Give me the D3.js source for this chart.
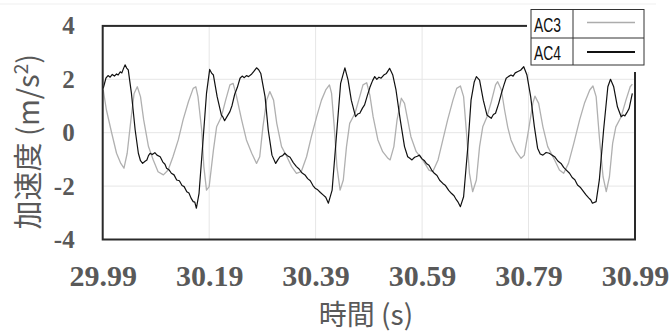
<!DOCTYPE html>
<html>
<head>
<meta charset="utf-8">
<script src="https://cdn.jsdelivr.net/npm/d3@7"></script>
<style>
  body { margin: 0; background: #fff; }
  svg { display: block; }
</style>
</head>
<body>
<div id="chart"></div>
<script>
// axis ticks
const xTicks = [29.99, 30.19, 30.39, 30.59, 30.79, 30.99];
const yTicks = [-4, -2, 0, 2, 4];
const seriesNames = ["AC3", "AC4"];

// AC3 (grey) [time s, acceleration m/s2]
const ac3 = [
  [29.991, 1.6], [29.997, 0.85], [30.007, -0.02], [30.016, -0.77], [30.024, -1.15],
  [30.030, -1.33], [30.036, -0.77], [30.043, 0.48], [30.049, 1.47], [30.055, 1.72],
  [30.061, 1.35], [30.067, 0.48], [30.076, -0.52], [30.085, -1.02], [30.094, -1.46],
  [30.104, -1.58], [30.113, -1.4], [30.122, -0.9], [30.132, -0.27], [30.141, 0.48],
  [30.151, 1.16], [30.160, 1.66], [30.165, 1.72], [30.169, 1.35], [30.176, 0.1],
  [30.180, -1.27], [30.185, -2.15], [30.190, -2.02], [30.198, -0.65], [30.204, 0.22],
  [30.213, 0.6], [30.221, 1.22], [30.229, 1.79], [30.235, 1.85], [30.241, 1.4],
  [30.251, 0.48], [30.260, -0.27], [30.270, -0.77], [30.279, -1.15], [30.285, -0.9],
  [30.291, 0.22], [30.298, 1.22], [30.304, 1.54], [30.311, 1.22], [30.317, 0.35],
  [30.326, -0.52], [30.336, -0.9], [30.345, -1.27], [30.354, -1.52], [30.363, -1.46],
  [30.373, -0.9], [30.382, -0.15], [30.392, 0.6], [30.401, 1.22], [30.409, 1.6],
  [30.416, 1.79], [30.420, 1.47], [30.425, 0.22], [30.430, -1.27], [30.436, -2.15],
  [30.442, -1.77], [30.448, -0.52], [30.454, 0.35], [30.464, 0.73], [30.471, 1.22],
  [30.479, 1.79], [30.486, 1.87], [30.492, 1.4], [30.498, 0.6], [30.507, -0.27],
  [30.516, -0.71], [30.526, -0.96], [30.530, -1.02], [30.537, -0.52], [30.543, 0.48],
  [30.551, 1.29], [30.557, 1.1], [30.563, 0.48], [30.569, -0.15], [30.579, -0.71],
  [30.591, -1.02], [30.603, -1.4], [30.610, -1.46], [30.620, -1.02], [30.629, -0.27],
  [30.638, 0.48], [30.648, 1.22], [30.655, 1.66], [30.662, 1.75], [30.668, 1.35],
  [30.674, -0.15], [30.679, -1.52], [30.685, -2.21], [30.692, -1.77], [30.698, -0.52],
  [30.704, 0.22], [30.712, 0.6], [30.720, 1.16], [30.728, 1.79], [30.732, 1.91],
  [30.739, 1.6], [30.745, 0.85], [30.751, 0.2], [30.757, -0.27], [30.767, -0.71],
  [30.776, -0.96], [30.782, -0.84], [30.790, 0.1], [30.798, 1.1], [30.802, 1.37],
  [30.809, 1.1], [30.817, 0.22], [30.826, -0.52], [30.839, -1.02], [30.848, -1.4],
  [30.856, -1.52], [30.865, -1.15], [30.875, -0.4], [30.886, 0.48], [30.895, 1.1],
  [30.905, 1.6], [30.911, 1.75], [30.917, 1.35], [30.923, -0.15], [30.930, -1.65],
  [30.936, -2.21], [30.942, -1.65], [30.948, -0.4], [30.954, 0.22], [30.964, 0.6],
  [30.973, 1.22], [30.981, 1.72], [30.985, 1.82]
];

// AC4 (black) [time s, acceleration m/s2]
const ac4 = [
  [29.991, 1.66], [29.996, 2.04], [30.000, 2.14], [30.004, 2.08], [30.008, 2.18],
  [30.012, 2.12], [30.016, 2.2], [30.019, 2.16], [30.023, 2.28], [30.026, 2.24],
  [30.029, 2.4], [30.032, 2.54], [30.035, 2.42], [30.038, 2.35], [30.044, 1.47],
  [30.051, 0.1], [30.057, -0.77], [30.061, -1.05], [30.065, -1.15], [30.069, -1.08],
  [30.073, -1.02], [30.076, -0.86], [30.079, -0.77], [30.083, -0.82], [30.088, -0.75],
  [30.092, -0.84], [30.098, -0.9], [30.103, -1.1], [30.107, -1.18], [30.110, -1.33],
  [30.115, -1.4], [30.119, -1.52], [30.124, -1.58], [30.129, -1.77], [30.134, -1.8],
  [30.139, -1.98], [30.143, -2.02], [30.148, -2.21], [30.152, -2.26], [30.156, -2.45],
  [30.160, -2.58], [30.163, -2.6], [30.166, -2.83], [30.171, -2.27], [30.179, -0.15],
  [30.185, 1.47], [30.191, 2.37], [30.195, 2.22], [30.198, 2.16], [30.205, 1.35],
  [30.213, 0.66], [30.216, 0.58], [30.219, 0.45], [30.224, 0.62], [30.229, 0.79],
  [30.233, 1.02], [30.238, 1.44], [30.243, 1.7], [30.248, 2.04], [30.252, 2.12],
  [30.256, 2.06], [30.260, 2.14], [30.264, 2.1], [30.270, 2.2], [30.274, 2.3],
  [30.279, 2.43], [30.283, 2.36], [30.287, 2.22], [30.295, 1.35], [30.301, 0.1],
  [30.308, -0.84], [30.315, -1.15], [30.319, -1.02], [30.323, -0.9], [30.328, -0.86],
  [30.332, -0.77], [30.337, -0.86], [30.342, -0.92], [30.348, -1.12], [30.354, -1.27],
  [30.359, -1.36], [30.364, -1.5], [30.370, -1.58], [30.375, -1.72], [30.380, -1.8],
  [30.385, -1.98], [30.389, -2.08], [30.394, -2.14], [30.399, -2.24], [30.404, -2.33],
  [30.409, -2.42], [30.414, -2.64], [30.421, -2.15], [30.430, 0.1], [30.437, 1.85],
  [30.445, 2.43], [30.451, 1.97], [30.457, 1.22], [30.465, 0.6], [30.469, 0.7],
  [30.473, 0.73], [30.478, 0.92], [30.482, 1.04], [30.487, 1.38], [30.492, 1.7],
  [30.497, 1.95], [30.501, 2.1], [30.505, 2.0], [30.509, 2.08], [30.513, 2.04],
  [30.518, 2.16], [30.523, 2.22], [30.529, 2.41], [30.535, 2.16], [30.541, 1.6],
  [30.549, 0.48], [30.557, -0.52], [30.563, -0.9], [30.567, -0.96], [30.571, -1.02],
  [30.576, -0.92], [30.581, -0.88], [30.585, -0.84], [30.590, -0.98], [30.594, -1.04],
  [30.598, -1.15], [30.603, -1.22], [30.608, -1.4], [30.613, -1.52], [30.618, -1.6],
  [30.623, -1.78], [30.629, -1.9], [30.634, -1.98], [30.640, -2.16], [30.645, -2.27],
  [30.650, -2.36], [30.654, -2.5], [30.657, -2.58], [30.662, -2.77], [30.668, -2.4],
  [30.676, -0.52], [30.682, 1.22], [30.688, 1.9], [30.692, 2.1], [30.698, 1.97],
  [30.705, 1.22], [30.712, 0.66], [30.716, 0.6], [30.720, 0.54], [30.724, 0.68],
  [30.728, 0.73], [30.734, 1.1], [30.739, 1.47], [30.744, 1.8], [30.748, 2.04],
  [30.752, 2.1], [30.757, 2.16], [30.761, 2.12], [30.765, 2.24], [30.770, 2.29],
  [30.775, 2.34], [30.781, 2.47], [30.787, 2.16], [30.794, 1.35], [30.801, 0.22],
  [30.807, -0.58], [30.812, -0.8], [30.817, -0.84], [30.823, -0.74], [30.829, -0.77],
  [30.834, -0.84], [30.839, -0.9], [30.845, -1.06], [30.851, -1.15], [30.856, -1.3],
  [30.861, -1.4], [30.867, -1.52], [30.872, -1.68], [30.877, -1.76], [30.882, -1.96],
  [30.887, -2.04], [30.893, -2.2], [30.898, -2.33], [30.903, -2.44], [30.907, -2.52],
  [30.910, -2.64], [30.917, -2.58], [30.923, -1.77], [30.931, 0.1], [30.939, 1.72],
  [30.944, 2.0], [30.950, 1.72], [30.957, 0.97], [30.964, 0.6], [30.968, 0.66],
  [30.971, 0.63], [30.975, 0.76], [30.979, 0.91], [30.985, 1.47]
];

const W = 670, H = 333;
const plot = { left: 102.7, right: 635, top: 25.9, bottom: 239.5 };

const svg = d3.select("#chart")
  .append("svg")
  .attr("width", W)
  .attr("height", H);

const x = d3.scaleLinear().domain([29.99, 30.99]).range([plot.left, plot.right]);
const y = d3.scaleLinear().domain([-4, 4]).range([plot.bottom, plot.top]);

// faint frame line at top
svg.append("line")
  .attr("x1", 0).attr("x2", 656).attr("y1", 4).attr("y2", 4)
  .attr("stroke", "#efefef").attr("stroke-width", 1);

// grid
svg.append("g").selectAll("line")
  .data(yTicks.slice(1, -1))
  .join("line")
  .attr("x1", plot.left).attr("x2", plot.right)
  .attr("y1", d => y(d)).attr("y2", d => y(d))
  .attr("stroke", "#e6e6e6").attr("stroke-width", 1);

svg.append("g").selectAll("line")
  .data(xTicks.slice(1, -1))
  .join("line")
  .attr("x1", d => x(d)).attr("x2", d => x(d))
  .attr("y1", plot.top).attr("y2", plot.bottom)
  .attr("stroke", "#e6e6e6").attr("stroke-width", 1);

// lines
const line = d3.line().x(d => x(d[0])).y(d => y(d[1]));

svg.append("path")
  .datum(ac3)
  .attr("d", line)
  .attr("fill", "none")
  .attr("stroke", "#b0b0b0")
  .attr("stroke-width", 1.3)
  .attr("stroke-linejoin", "round");

svg.append("path")
  .datum(ac4)
  .attr("d", line)
  .attr("fill", "none")
  .attr("stroke", "#111")
  .attr("stroke-width", 1.2)
  .attr("stroke-linejoin", "round");

// plot border
svg.append("rect")
  .attr("x", plot.left).attr("y", plot.top)
  .attr("width", plot.right - plot.left).attr("height", plot.bottom - plot.top)
  .attr("fill", "none")
  .attr("stroke", "#2a2a2a")
  .attr("stroke-width", 2);

// axes
const serif = "'Liberation Serif', 'Times New Roman', serif";

const yAxis = svg.append("g")
  .attr("transform", `translate(${plot.left},0)`)
  .call(d3.axisLeft(y).tickValues(yTicks).tickSize(0).tickPadding(28).tickFormat(d => String(d)));
yAxis.select(".domain").remove();
yAxis.attr("font-family", serif).attr("font-size", 25);
yAxis.selectAll("text")
  .attr("fill", "#595959")
  .attr("font-weight", "bold");

const xAxis = svg.append("g")
  .attr("transform", `translate(0,${plot.bottom})`)
  .call(d3.axisBottom(x).tickValues(xTicks).tickSize(0).tickPadding(25).tickFormat(d3.format(".2f")));
xAxis.select(".domain").remove();
xAxis.attr("font-family", serif).attr("font-size", 30);
xAxis.selectAll("text")
  .attr("fill", "#595959")
  .attr("font-weight", "bold");

// axis titles
svg.append("text")
  .attr("x", 366)
  .attr("y", 325)
  .attr("text-anchor", "middle")
  .attr("fill", "#595959")
  .style("font-family", "'Noto Sans CJK JP', 'Noto Sans', sans-serif")
  .style("font-size", "28px")
  .text("時間 (s)");

const yTitle = svg.append("text")
  .attr("transform", `translate(39,${(plot.top + plot.bottom) / 2 + 9}) rotate(-90)`)
  .attr("text-anchor", "middle")
  .attr("fill", "#595959")
  .style("font-family", "'Noto Sans CJK JP', 'Noto Sans', sans-serif")
  .style("font-size", "29px");
yTitle.append("tspan").text("加速度 (m/s");
yTitle.append("tspan").attr("dy", -11).style("font-size", "19px").text("2");
yTitle.append("tspan").attr("dy", 11).text(")");

// legend
const lg = svg.append("g");
lg.append("rect")
  .attr("x", 527).attr("y", 5).attr("width", 122).attr("height", 67)
  .attr("fill", "#fff");
lg.append("rect")
  .attr("x", 531).attr("y", 9.5).attr("width", 113).attr("height", 55.5)
  .attr("fill", "#fff").attr("stroke", "#333").attr("stroke-width", 1);
lg.append("line")
  .attr("x1", 573).attr("x2", 573).attr("y1", 9.5).attr("y2", 65)
  .attr("stroke", "#333");
lg.append("line")
  .attr("x1", 531).attr("x2", 644).attr("y1", 38).attr("y2", 38)
  .attr("stroke", "#333");

const legendRows = seriesNames.map((name, i) => ({
  name,
  color: i === 0 ? "#acacac" : "#111",
  width: i === 0 ? 1.3 : 2,
  cy: 9.5 + 14 + i * 28.5
}));

lg.selectAll("text.lab")
  .data(legendRows)
  .join("text")
  .attr("class", "lab")
  .attr("x", 534)
  .attr("y", d => d.cy + 8)
  .attr("textLength", 27)
  .attr("lengthAdjust", "spacingAndGlyphs")
  .attr("fill", "#111")
  .style("font-family", "'Liberation Sans', sans-serif")
  .style("font-size", "20px")
  .text(d => d.name);

lg.selectAll("line.sw")
  .data(legendRows)
  .join("line")
  .attr("class", "sw")
  .attr("x1", 587).attr("x2", 635)
  .attr("y1", (d, i) => d.cy - 1 + i).attr("y2", (d, i) => d.cy - 1 + i)
  .attr("stroke", d => d.color)
  .attr("stroke-width", d => d.width);
</script>
</body>
</html>
